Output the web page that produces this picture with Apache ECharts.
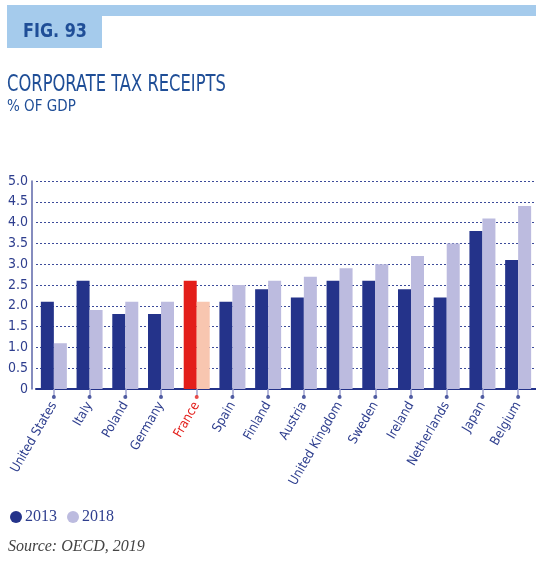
<!DOCTYPE html>
<html><head><meta charset="utf-8">
<script src="https://cdn.jsdelivr.net/npm/echarts@6/dist/echarts.min.js"></script>
<style>html,body{margin:0;padding:0;background:#fff}#c{width:536px;height:577px}</style>
</head><body><div id="c"></div>
<script>
const categories = ['United States','Italy','Poland','Germany','France','Spain','Finland','Austria','United Kingdom','Sweden','Ireland','Netherlands','Japan','Belgium'];
const values2013 = [2.1,2.6,1.8,1.8,2.6,2.1,2.4,2.2,2.6,2.6,2.4,2.2,3.8,3.1];
const values2018 = [1.1,1.9,2.1,2.1,2.1,2.5,2.6,2.7,2.9,3.0,3.2,3.5,4.1,4.4];
const yTickLabels = ['0','0.5','1.0','1.5','2.0','2.5','3.0','3.5','4.0','4.5','5.0'];
const highlight = 'France';

const DARK = '#24338A', LIGHT = '#BCBBDF', RED = '#E31E1A', PINK = '#F8C6B0';
const TXT = '#2E3E8E';
const HEAD = '#1F4E97';
const NARROW = '"DejaVu Sans Condensed", "Liberation Sans Narrow", sans-serif';

const chart = echarts.init(document.getElementById('c'), null, {renderer:'canvas'});
chart.setOption({
  animation:false,
  graphic:[
    {type:'rect', shape:{x:7,y:5,width:529,height:11}, style:{fill:'#A5CBEC'}},
    {type:'rect', shape:{x:7,y:5,width:95,height:43}, style:{fill:'#A5CBEC'}},
    {type:'text', x:23, y:22, scaleX:0.89, style:{text:'FIG. 93', fill:HEAD, font:'bold 20px ' + NARROW, verticalAlign:'top'}},
    {type:'text', x:7, y:74, scaleX:0.79, style:{text:'CORPORATE TAX RECEIPTS', fill:HEAD, font:'normal 23px ' + NARROW, verticalAlign:'top'}},
    {type:'text', x:7, y:100, style:{text:'% OF GDP', fill:HEAD, font:'normal 15px ' + NARROW, verticalAlign:'top'}}
  ],
  title:[
    {text:'Source: OECD, 2019', left:3, top:534, textStyle:{fontFamily:'"Liberation Serif", serif', fontStyle:'italic', fontWeight:'normal', fontSize:16, color:'#444'}}
  ],
  legend:{
    data:['2013','2018'], left:5, top:504, icon:'circle', itemWidth:12, itemHeight:12, itemGap:10,
    textStyle:{fontFamily:'"Liberation Serif", serif', fontSize:16, color:TXT, padding:[0,0,0,-2]}
  },
  grid:{left:36, right:-1, top:181, bottom:188, containLabel:false},
  xAxis:{
    type:'category', data:categories, boundaryGap:true,
    axisLine:{lineStyle:{color:DARK, width:2}},
    axisTick:{show:true, alignWithLabel:true, length:7, lineStyle:{color:'#9EA3CF', width:1.5}},
    axisLabel:{rotate:60, interval:0, margin:14, fontFamily:NARROW, fontSize:13,
      color:(v)=> v===highlight ? RED : TXT}
  },
  yAxis:{
    type:'value', min:0, max:5, interval:0.5, offset:4,
    axisLine:{show:true, lineStyle:{color:'#5C66A8', width:1.5}},
    axisTick:{show:false},
    axisLabel:{margin:4, fontFamily:NARROW, fontSize:14, color:TXT,
      formatter:(v)=> yTickLabels[Math.round(v/0.5)]},
    splitLine:{lineStyle:{color:'#3C4B9A', type:[2,2], width:1}}
  },
  series:[
    {name:'2013', type:'bar', barWidth:13, barGap:'0%', itemStyle:{color:DARK},
      data: values2013.map((v,i)=> categories[i]===highlight ? {value:v, itemStyle:{color:RED}} : v)},
    {name:'2018', type:'bar', barWidth:13, itemStyle:{color:LIGHT},
      data: values2018.map((v,i)=> categories[i]===highlight ? {value:v, itemStyle:{color:PINK}} : v)},
    {name:'ticks', type:'scatter', clip:false, symbol:'circle', symbolSize:4, silent:true, z:5,
      data: categories.map((c)=> ({value:-0.19, itemStyle:{color: c===highlight ? RED : DARK}}))}
  ]
});
</script></body></html>
